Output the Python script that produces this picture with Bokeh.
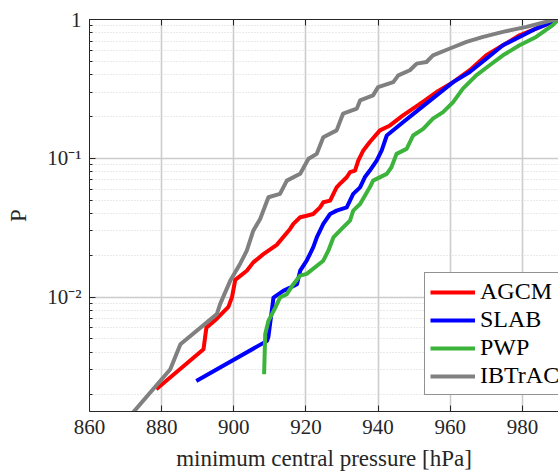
from bokeh.plotting import figure
from bokeh.models import (LinearAxis, Legend, LegendItem, FixedTicker,
                          CustomJSTickFormatter)
from bokeh.embed import file_html
from bokeh.resources import INLINE

# ---- data ----
agcm_x = [878.5, 891.6, 892.4, 895.3, 898.5, 899.5, 900.4, 903.6, 905.4, 908.2,
          911.9, 915.6, 916.5, 918.4, 920.2, 922.0, 923.9, 924.8, 926.7, 927.6,
          928.5, 929.4, 931.3, 932.2, 933.6, 934.5, 935.9, 937.7, 940.5, 943.3,
          946.9, 951.6, 956.2, 960.8, 965.4, 970.0, 974.6, 979.2, 983.8, 988.4, 990.0]
agcm_p = [0.00217, 0.00421, 0.00603, 0.0070, 0.0085, 0.0100, 0.0133, 0.0155, 0.0178, 0.0204,
          0.0238, 0.031, 0.0337, 0.0376, 0.0386, 0.0397, 0.0443, 0.0482, 0.0496, 0.0554,
          0.0618, 0.0654, 0.073, 0.0794, 0.0816, 0.0964, 0.114, 0.131, 0.159, 0.1725,
          0.204, 0.247, 0.300, 0.354, 0.431, 0.552, 0.652, 0.770, 0.861, 0.96, 1.0]

slab_x = [889.6, 909.2, 909.6, 911.0, 913.7, 915.6, 917.5, 918.4, 920.2, 922.0,
          923.0, 924.8, 926.7, 928.5, 931.3, 932.2, 933.1, 935.0, 936.3, 937.7,
          939.6, 941.0, 942.4, 946.9, 951.6, 956.2, 960.8, 965.4, 970.0, 974.6,
          979.2, 983.8, 988.4, 990.0]
slab_p = [0.00249, 0.00484, 0.00520, 0.00993, 0.0111, 0.0117, 0.0124, 0.0155, 0.0183, 0.0228,
          0.0269, 0.0337, 0.0397, 0.042, 0.0443, 0.0496, 0.0554, 0.0618, 0.073, 0.0816,
          0.0964, 0.114, 0.146, 0.182, 0.228, 0.284, 0.354, 0.419, 0.523, 0.652,
          0.749, 0.861, 0.96, 1.0]

pwp_x = [908.4, 908.7, 909.6, 911.5, 912.8, 914.7, 916.5, 918.4, 920.2, 924.8,
         926.2, 927.6, 930.3, 932.2, 933.1, 935.0, 937.7, 938.6, 942.4, 943.7,
         945.1, 947.9, 949.7, 952.5, 955.2, 958.0, 960.8, 963.5, 967.2, 970.9,
         974.6, 979.2, 983.8, 988.4, 990.0]
pwp_p = [0.00278, 0.00541, 0.00675, 0.00841, 0.00993, 0.0105, 0.0124, 0.0143, 0.0147, 0.0183,
         0.0216, 0.0269, 0.0318, 0.0356, 0.042, 0.0469, 0.0618, 0.0691, 0.0773, 0.0862,
         0.1077, 0.117, 0.146, 0.163, 0.193, 0.215, 0.254, 0.318, 0.396, 0.468,
         0.552, 0.652, 0.749, 0.91, 1.0]

ibtracs_x = [871.0, 882.4, 885.2, 895.3, 896.2, 899.0, 901.8, 903.6, 905.4, 907.3,
             909.6, 912.8, 914.7, 918.4, 920.7, 923.0, 924.8, 928.5, 930.3, 934.1,
             935.0, 938.6, 940.0, 944.2, 945.6, 948.8, 950.7, 953.4, 955.2, 959.9,
             964.5, 969.1, 974.6, 981.1, 988.4, 990.0]
ibtracs_p = [0.00137, 0.00302, 0.00458, 0.00754, 0.0089, 0.0131, 0.0175, 0.0216, 0.0301, 0.0366,
             0.0524, 0.0554, 0.0691, 0.0773, 0.0992, 0.1077, 0.142, 0.159, 0.21, 0.228,
             0.261, 0.284, 0.326, 0.354, 0.396, 0.431, 0.481, 0.494, 0.552, 0.618,
             0.689, 0.749, 0.814, 0.885, 0.99, 1.0]

series_names = ["AGCM", "SLAB", "PWP", "IBTrACS"]
series_colors = ["#ff0000", "#0000ff", "#3cb43c", "#808080"]
x_ticks = [860, 880, 900, 920, 940, 960, 980]

FONT = "Liberation Serif"
TXT = "#262626"

p = figure(width=558, height=474, x_range=(860, 990), y_range=(0.0015, 1),
           y_axis_type="log", output_backend="svg", toolbar_location=None,
           min_border_left=89, min_border_right=0, min_border_top=19,
           min_border_bottom=63)
p.outline_line_color = None
p.background_fill_color = "white"

# grids
p.xgrid.ticker = FixedTicker(ticks=x_ticks)
p.xgrid.grid_line_color = "#cccccc"
p.xgrid.grid_line_width = 1.6
p.ygrid.grid_line_color = "#cccccc"
p.ygrid.grid_line_width = 1.6
p.ygrid.minor_grid_line_color = "#d4d4d4"
p.ygrid.minor_grid_line_dash = "1 2"
p.ygrid.minor_grid_line_width = 1

# bottom axis
xa = p.xaxis[0]
xa.ticker = FixedTicker(ticks=x_ticks)
xa.axis_label = "minimum central pressure [hPa]"
for ax in [xa, p.yaxis[0]]:
    ax.axis_label_text_font = FONT
    ax.axis_label_text_font_size = "23px"
    ax.axis_label_text_font_style = "normal"
    ax.axis_label_text_color = TXT
    ax.major_label_text_font = FONT
    ax.major_label_text_font_size = "21px"
    ax.major_label_text_color = TXT
    ax.axis_line_color = TXT
    ax.major_tick_line_color = TXT
    ax.minor_tick_line_color = TXT
    ax.major_tick_in = 6
    ax.major_tick_out = 0
xa.minor_tick_line_color = None
xa.major_label_standoff = 8
xa.axis_label_standoff = 9

ya = p.yaxis[0]
ya.axis_label = "P"
ya.minor_tick_in = 3
ya.minor_tick_out = 0
ya.major_label_standoff = 8
ya.axis_label_standoff = 13
ya.formatter = CustomJSTickFormatter(code="""
if (Math.abs(tick - 1) < 1e-9) return '1';
const e = Math.round(Math.log10(tick));
const sup = {'-':'\u207b','0':'\u2070','1':'\u00b9','2':'\u00b2','3':'\u00b3','4':'\u2074'};
return '10' + String(e).split('').map(c => sup[c]).join('');
""")

# top axis (ticks only)
top = LinearAxis(ticker=FixedTicker(ticks=x_ticks),
                 formatter=CustomJSTickFormatter(code="return '';"),
                 major_tick_in=6, major_tick_out=0,
                 major_label_text_font_size="1px", major_label_standoff=0,
                 axis_line_color=TXT, major_tick_line_color=TXT,
                 minor_tick_line_color=None)
p.add_layout(top, "above")

# lines
renderers = []
for xs, ps, c in [(agcm_x, agcm_p, series_colors[0]), (slab_x, slab_p, series_colors[1]),
                  (pwp_x, pwp_p, series_colors[2]), (ibtracs_x, ibtracs_p, series_colors[3])]:
    r = p.line(xs, ps, line_color=c, line_width=4, line_join="round")
    renderers.append(r)

legend = Legend(items=[LegendItem(label=n, renderers=[r]) for n, r in zip(series_names, renderers)],
                location=(335, 16))
legend.label_text_font = FONT
legend.label_text_font_size = "24px"
legend.label_text_color = "#000000"
legend.glyph_width = 45
legend.glyph_height = 24
legend.label_height = 24
legend.label_standoff = 5
legend.spacing = 1
legend.padding = 5
legend.margin = 0
legend.border_line_color = TXT
legend.border_line_width = 1
legend.background_fill_alpha = 1
p.add_layout(legend)

open("out.html", "w").write(file_html(p, INLINE))
